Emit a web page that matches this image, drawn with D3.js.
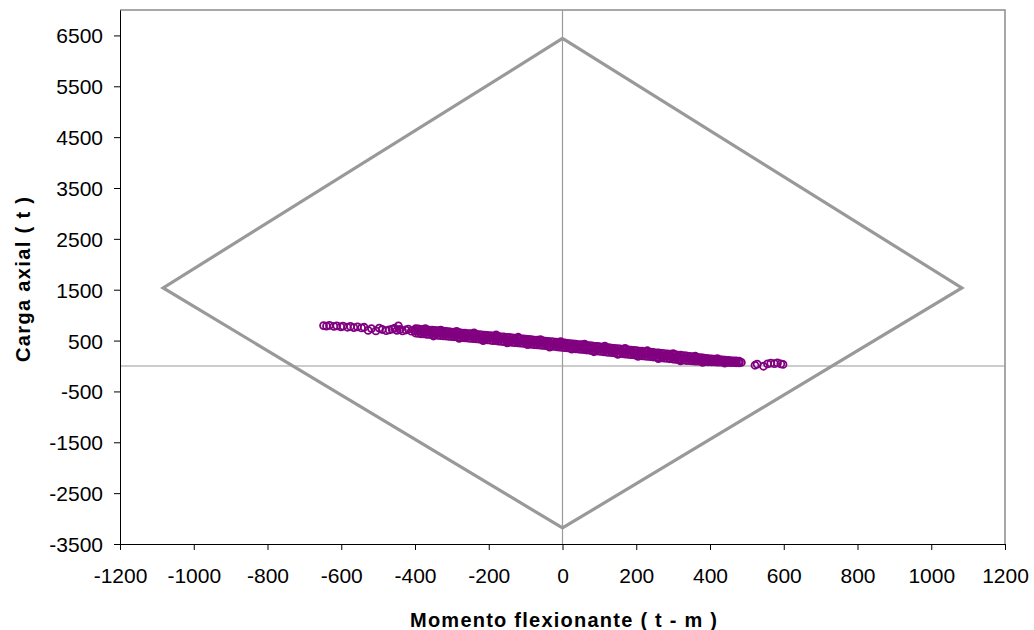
<!DOCTYPE html>
<html>
<head>
<meta charset="utf-8">
<script src="https://cdn.jsdelivr.net/npm/d3@7/dist/d3.min.js"></script>
<style>
  html, body { margin: 0; padding: 0; background: #fff; }
  svg { display: block; }
  text { font-family: "Liberation Sans", Arial, sans-serif; }
</style>
</head>
<body>
<svg id="chart" width="1034" height="630"></svg>
<script>
// ---- data ----
const xTicks = [-1200, -1000, -800, -600, -400, -200, 0, 200, 400, 600, 800, 1000, 1200];
const yTicks = [-3500, -2500, -1500, -500, 500, 1500, 2500, 3500, 4500, 5500, 6500];

// interaction diagram (diamond)
const diagramaM = [0, 1083, 0, -1083, 0];
const diagramaP = [6440, 1535, -3185, 1535, 6440];

// load combinations [M (t-m), P (t)]
const combinaciones = [
  [-648,795],[-640,785],[-632,800],[-620,778],[-612,790],[-601,770],[-595,785],[-583,762],
  [-575,778],[-566,755],[-556,770],[-545,748],[-538,762],[-527,700],[-518,735],[-506,690],
  [-497,745],[-489,718],[-478,695],[-470,710],[-462,725],[-455,742],[-449,700],[-445,790],
  [-441,718],[-434,690],[-425,708],[-418,726],[-410,684],[-402,700],
  [-398,735],[-398,692],[-398,646],[-391,728],[-391,680],[-391,641],
  [-383,722],[-383,684],[-383,633],[-376,716],[-376,670],[-376,630],
  [-368,712],[-368,672],[-368,622],[-361,706],[-361,660],[-361,620],
  [-353,703],[-353,662],[-353,612],[-346,698],[-346,650],[-346,610],
  [-338,694],[-338,654],[-338,604],[-331,688],[-331,640],[-331,600],
  [-323,684],[-323,645],[-323,594],[-316,678],[-316,632],[-316,590],
  [-308,674],[-308,634],[-308,584],[-301,668],[-301,622],[-301,580],
  [-294,665],[-294,625],[-294,575],[-286,658],[-286,612],[-286,570],
  [-279,655],[-279,614],[-279,564],[-271,648],[-271,600],[-271,560],
  [-264,645],[-264,604],[-264,554],[-256,637],[-256,590],[-256,550],
  [-249,634],[-249,592],[-249,543],[-241,627],[-241,580],[-241,540],
  [-234,624],[-234,583],[-234,533],[-226,616],[-226,570],[-226,528],
  [-219,613],[-219,572],[-219,522],[-211,606],[-211,560],[-211,518],
  [-204,603],[-204,562],[-204,512],[-196,595],[-196,548],[-196,508],
  [-189,592],[-189,551],[-189,501],[-181,585],[-181,538],[-181,497],
  [-174,582],[-174,541],[-174,491],[-166,574],[-166,527],[-166,486],
  [-159,571],[-159,530],[-159,480],[-151,564],[-151,517],[-151,476],
  [-144,561],[-144,520],[-144,470],[-136,553],[-136,506],[-136,465],
  [-129,550],[-129,509],[-129,459],[-121,543],[-121,496],[-121,455],
  [-114,540],[-114,499],[-114,449],[-106,532],[-106,485],[-106,444],
  [-99,529],[-99,488],[-99,438],[-91,521],[-91,474],[-91,433],
  [-84,518],[-84,477],[-84,427],[-76,510],[-76,463],[-76,422],
  [-69,507],[-69,466],[-69,416],[-61,499],[-61,452],[-61,411],
  [-54,496],[-54,455],[-54,405],[-46,489],[-46,442],[-46,401],
  [-39,485],[-39,444],[-39,394],[-31,478],[-31,431],[-31,390],
  [-24,475],[-24,434],[-24,384],[-16,467],[-16,420],[-16,379],
  [-9,464],[-9,423],[-9,373],[-1,454],[-1,407],[-1,366],
  [6,452],[6,411],[6,361],[14,444],[14,397],[14,356],
  [21,441],[21,400],[21,350],[29,433],[29,386],[29,345],
  [36,429],[36,388],[36,338],[44,421],[44,374],[44,333],
  [51,418],[51,377],[51,327],[59,410],[59,363],[59,322],
  [66,406],[66,365],[66,315],[74,398],[74,351],[74,310],
  [81,395],[81,354],[81,304],[89,386],[89,339],[89,298],
  [96,383],[96,342],[96,292],[104,375],[104,328],[104,287],
  [111,371],[111,330],[111,280],[119,363],[119,316],[119,275],
  [126,360],[126,319],[126,269],[134,352],[134,305],[134,264],
  [141,348],[141,307],[141,257],[149,340],[149,293],[149,252],
  [156,337],[156,296],[156,246],[164,329],[164,282],[164,241],
  [171,325],[171,284],[171,234],[179,317],[179,270],[179,229],
  [186,314],[186,273],[186,223],[194,306],[194,259],[194,218],
  [201,302],[201,261],[201,211],[209,294],[209,247],[209,206],
  [216,290],[216,249],[216,199],[224,283],[224,236],[224,195],
  [231,279],[231,238],[231,188],[239,271],[239,224],[239,183],
  [246,268],[246,227],[246,177],[254,260],[254,213],[254,172],
  [261,256],[261,215],[261,165],[269,248],[269,201],[269,160],
  [276,245],[276,204],[276,154],[284,237],[284,190],[284,149],
  [291,234],[291,193],[291,143],[299,226],[299,179],[299,138],
  [306,222],[306,181],[306,131],[314,214],[314,167],[314,126],
  [321,211],[321,170],[321,120],[329,203],[329,156],[329,115],
  [336,199],[336,158],[336,108],[344,190],[344,144],[344,104],
  [351,185],[351,146],[351,100],[359,176],[359,133],[359,98],
  [366,170],[366,136],[366,95],[374,162],[374,124],[374,92],
  [381,158],[381,126],[381,90],[389,150],[389,115],[389,86],
  [396,145],[396,117],[396,84],[404,138],[404,106],[404,82],
  [411,133],[411,108],[411,80],[419,128],[419,100],[419,78],
  [426,124],[426,102],[426,76],[434,118],[434,94],[434,74],
  [441,115],[441,96],[441,72],[449,110],[449,88],[449,70],
  [456,106],[456,90],[456,68],[464,102],[464,82],[464,66],
  [471,98],[471,84],[471,64],[479,96],[479,76],[479,62],
  [485,70],
  [-372,735],[-330,705],[-287,680],[-240,650],[-180,610],[-120,565],[-60,520],[-5,480],
  [60,430],[115,390],[170,345],[230,300],[300,245],[360,195],[420,145],
  [-350,590],[-280,545],[-215,500],[-150,455],[-95,420],[-35,370],[25,330],[85,280],
  [150,230],[205,190],[260,145],[320,100],[380,70],[440,55],
  [522,15],[528,35],[545,-5],[556,40],[565,55],[575,45],[583,60],[592,40],[598,30]
];

// ---- layout ----
const svg = d3.select("#chart");
const padL = 120, padR = 1005, padT = 10, padB = 544;
const x = d3.scaleLinear().domain([-1200, 1200]).range([padL, padR]);
const y = d3.scaleLinear().domain([-3500, 7000]).range([padB, padT]);

// plot-area frame (top & right, gray)
svg.append("path")
  .attr("d", `M${padL},${padT}H${padR}V${padB}`)
  .attr("fill", "none").attr("stroke", "#8c8c8c").attr("stroke-width", 1.5);

// zero lines
svg.append("line")
  .attr("x1", x(0)).attr("x2", x(0)).attr("y1", padT).attr("y2", padB)
  .attr("stroke", "#9a9a9a").attr("stroke-width", 1.2);
svg.append("line")
  .attr("x1", padL).attr("x2", padR).attr("y1", y(0)).attr("y2", y(0))
  .attr("stroke", "#9a9a9a").attr("stroke-width", 1.2);

// diamond
const diamond = diagramaM.map((m, i) => [m, diagramaP[i]]);
svg.append("path")
  .datum(diamond)
  .attr("d", d3.line().x(d => x(d[0])).y(d => y(d[1])))
  .attr("fill", "none").attr("stroke", "#999999").attr("stroke-width", 3.2)
  .attr("stroke-linejoin", "miter");

// scatter points
svg.append("g").selectAll("circle")
  .data(combinaciones)
  .join("circle")
  .attr("cx", d => x(d[0])).attr("cy", d => y(d[1]))
  .attr("r", 3.5)
  .attr("fill", "none").attr("stroke", "#800080").attr("stroke-width", 1.8);

// axes
const fmt = d => String(d);
const yAxis = svg.append("g")
  .attr("transform", `translate(${padL},0)`)
  .call(d3.axisLeft(y).tickValues(yTicks).tickFormat(fmt).tickSize(6).tickPadding(11).tickSizeOuter(0));
const xAxis = svg.append("g")
  .attr("transform", `translate(0,${padB})`)
  .call(d3.axisBottom(x).tickValues(xTicks).tickFormat(fmt).tickSize(6).tickPadding(19).tickSizeOuter(0));
[yAxis, xAxis].forEach(g => {
  g.selectAll("text").attr("font-size", 21).attr("fill", "#000")
    .attr("font-family", "'Liberation Sans', Arial, sans-serif");
  g.selectAll("line").attr("stroke", "#000");
  g.select(".domain").attr("stroke", "#000");
});
yAxis.selectAll("text").attr("dy", "0.36em");
xAxis.selectAll("text").attr("dy", "0").attr("y", 39);

// axis titles
svg.append("text")
  .attr("x", (410 + 717) / 2).attr("y", 627)
  .attr("text-anchor", "middle")
  .attr("font-size", 20).attr("font-weight", "bold")
  .attr("textLength", 307).attr("lengthAdjust", "spacing")
  .text("Momento flexionante ( t - m )");

svg.append("text")
  .attr("transform", "translate(30,279.5) rotate(-90)")
  .attr("text-anchor", "middle")
  .attr("font-size", 20).attr("font-weight", "bold")
  .attr("textLength", 165).attr("lengthAdjust", "spacing")
  .text("Carga axial ( t )");
</script>
</body>
</html>
